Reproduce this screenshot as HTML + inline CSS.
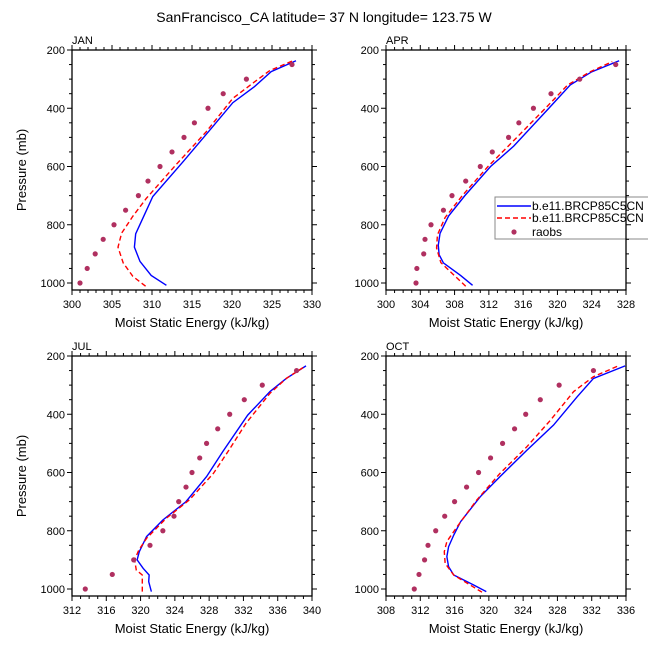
<!DOCTYPE html>
<html><head><meta charset="utf-8">
<style>
html,body{margin:0;padding:0;background:#fff;}
svg{display:block;font-family:"Liberation Sans",Arial,sans-serif;}
</style></head>
<body>
<svg id="chart" width="648" height="649" viewBox="0 0 648 649" xmlns="http://www.w3.org/2000/svg">
<text x="324" y="22" text-anchor="middle" font-size="14">SanFrancisco_CA  latitude= 37 N longitude= 123.75 W</text>
<g id="panels"></g>
</svg>
<script>
// Pressure levels for observations (mb)
const obsP = [1000,950,900,850,800,750,700,650,600,550,500,450,400,350,300,250];
// JAN
const janBlueP = [1008,974,926,877,831,775,703,583,463,381,326,274,237];
const janBlueV = [311.8,309.9,308.5,307.8,307.96,308.9,310.1,313.9,317.6,320.1,322.8,324.9,328.0];
const janRedP = [1011,977,931,877,829,771,709,594,480,366,314,271,237];
const janRedV = [309.2,307.6,306.4,305.75,306.2,307.6,309.3,313.0,316.8,320.1,322.6,324.7,327.6];
const janObs = [301.0,301.9,302.9,303.9,305.25,306.7,308.3,309.5,311.0,312.5,314.0,315.3,317.0,318.9,321.8,327.5];
// APR
const aprBlueP = [1008,974,931,903,870,830,770,700,600,530,400,320,275,237];
const aprBlueV = [310.1,308.7,306.7,306.2,306.1,306.3,307.3,309.2,312.2,314.9,319.0,321.5,324.0,327.2];
const aprRedP = [1011,975,930,880,835,775,700,600,520,400,320,275,240];
const aprRedV = [309.3,308.0,306.4,305.9,306.0,306.9,308.9,311.9,314.6,318.6,321.2,323.8,326.4];
const aprObs = [303.5,303.6,304.4,304.55,305.25,306.7,307.7,309.3,311.0,312.4,314.3,315.5,317.2,319.25,322.6,326.8];
// JUL
const julBlueP = [1009,975,952,929,900,872,820,763,700,614,528,403,322,277,234];
const julBlueV = [321.26,320.95,321.0,320.3,319.6,319.85,320.7,322.6,325.3,327.7,329.6,332.5,335.1,337.0,339.3];
const julRedP = [1009,952,935,900,866,826,757,694,603,528,431,328,277,237];
const julRedV = [320.2,320.2,319.5,319.3,319.8,320.7,323.0,325.7,328.5,330.2,332.3,335.1,337.0,339.1];
const julObs = [313.55,316.7,319.2,321.1,322.6,323.9,324.45,325.3,326.0,326.9,327.7,329.0,330.4,332.1,334.2,338.2];
// OCT
const octBlueP = [1009,986,952,923,889,855,815,769,683,614,523,437,340,277,234];
const octBlueV = [319.7,318.2,315.9,315.3,315.1,315.3,315.9,316.7,319.0,321.3,324.45,327.55,330.3,332.2,335.9];
const octRedP = [1011,986,952,912,872,837,786,694,603,511,420,322,271,234];
const octRedV = [319.2,317.8,315.9,314.9,314.8,315.1,316.3,318.6,321.3,324.45,327.2,329.9,332.2,335.1];
const octObs = [311.3,311.85,312.5,312.9,313.8,314.85,316.0,317.4,318.8,320.2,321.6,323.0,324.3,326.0,328.2,332.2];
// Axis ticks
const yTicks = [200,400,600,800,1000];
const janXTicks = [300,305,310,315,320,325,330];
const aprXTicks = [300,304,308,312,316,320,324,328];
const julXTicks = [312,316,320,324,328,332,336,340];
const octXTicks = [308,312,316,320,324,328,332,336];

const NS='http://www.w3.org/2000/svg';
const root=document.getElementById('panels');
function mk(tag,attrs,parent){const e=document.createElementNS(NS,tag);for(const k in attrs)e.setAttribute(k,attrs[k]);(parent||root).appendChild(e);return e;}

const panels=[
 {name:'jan',label:'JAN',x0:72,y0:50,xt:janXTicks,bp:janBlueP,bv:janBlueV,rp:janRedP,rv:janRedV,ob:janObs,ytitle:true,legend:false},
 {name:'apr',label:'APR',x0:386,y0:50,xt:aprXTicks,bp:aprBlueP,bv:aprBlueV,rp:aprRedP,rv:aprRedV,ob:aprObs,ytitle:false,legend:true},
 {name:'jul',label:'JUL',x0:72,y0:356,xt:julXTicks,bp:julBlueP,bv:julBlueV,rp:julRedP,rv:julRedV,ob:julObs,ytitle:true,legend:false},
 {name:'oct',label:'OCT',x0:386,y0:356,xt:octXTicks,bp:octBlueP,bv:octBlueV,rp:octRedP,rv:octRedV,ob:octObs,ytitle:false,legend:false}
];
const W=240,H=240,PMIN=200,PMAX=200+240/0.29125;

panels.forEach(pn=>{
 const g=mk('g',{});
 
 
 const xmin=pn.xt[0],xmax=pn.xt[pn.xt.length-1];
 const sx=v=>pn.x0+(v-xmin)/(xmax-xmin)*W;
 const sy=p=>pn.y0+(p-PMIN)/(PMAX-PMIN)*H;
 // clip
 const cid='clip-'+pn.name;
 const cp=mk('clipPath',{id:cid},g);
 mk('rect',{x:pn.x0,y:pn.y0,width:W,height:H},cp);
 const series=mk('g',{'clip-path':'url(#'+cid+')'},g);
 const pts=(P,V)=>P.map((p,i)=>sx(V[i]).toFixed(2)+','+sy(p).toFixed(2)).join(' ');
 const b=mk('polyline',{points:pts(pn.bp,pn.bv),fill:'none',stroke:'#0000ff','stroke-width':1.4},series);
 
 
 const r=mk('polyline',{points:pts(pn.rp,pn.rv),fill:'none',stroke:'#ff0000','stroke-width':1.4,'stroke-dasharray':'5,3'},series);
 
 
 pn.ob.forEach((v,i)=>{
  const c=mk('circle',{cx:sx(v),cy:sy(obsP[i]),r:2.6,fill:'#b03060'},g);
  
  
 });
 // legend
 if(pn.legend){
  const lg=mk('g',{},g);
  
  
  mk('rect',{x:495,y:197,width:160,height:42,fill:'#fff',stroke:'#888','stroke-width':1},lg);
  mk('line',{x1:497,y1:206,x2:531,y2:206,stroke:'#0000ff','stroke-width':1.4},lg);
  const t1=mk('text',{x:532,y:210,'font-size':12},lg);t1.textContent='b.e11.BRCP85C5CN';
  
  mk('line',{x1:497,y1:218,x2:531,y2:218,stroke:'#ff0000','stroke-width':1.4,'stroke-dasharray':'5,3'},lg);
  const t2=mk('text',{x:532,y:222,'font-size':12},lg);t2.textContent='b.e11.BRCP85C5CN';
  
  mk('circle',{cx:514,cy:232,r:2.6,fill:'#b03060'},lg);
  const t3=mk('text',{x:532,y:236,'font-size':12},lg);t3.textContent='raobs';
  
 }
 // frame
 const fr=mk('rect',{x:pn.x0,y:pn.y0,width:W,height:H,fill:'none',stroke:'#000','stroke-width':1.3},g);
 
 // y ticks
 for(let p=200;p<=1000;p+=50){
  const y=sy(p),maj=(p%200===0),L=maj?5:3;
  mk('line',{x1:pn.x0-L,y1:y,x2:pn.x0,y2:y,stroke:'#000','stroke-width':1},g);
  mk('line',{x1:pn.x0+W,y1:y,x2:pn.x0+W+L,y2:y,stroke:'#000','stroke-width':1},g);
 }
 yTicks.forEach(p=>{
  const t=mk('text',{x:pn.x0-7,y:sy(p)+4,'text-anchor':'end','font-size':11},g);
  t.textContent=p;
  
 });
 // x ticks
 for(let v=xmin;v<=xmax+1e-9;v+=1){
  const x=sx(v),maj=pn.xt.includes(v),L=maj?5:3;
  mk('line',{x1:x,y1:pn.y0+H,x2:x,y2:pn.y0+H+L,stroke:'#000','stroke-width':1},g);
  mk('line',{x1:x,y1:pn.y0-L,x2:x,y2:pn.y0,stroke:'#000','stroke-width':1},g);
 }
 pn.xt.forEach(v=>{
  const t=mk('text',{x:sx(v),y:pn.y0+H+18,'text-anchor':'middle','font-size':11},g);
  t.textContent=v;
  
 });
 const xt=mk('text',{x:pn.x0+W/2,y:pn.y0+H+37,'text-anchor':'middle','font-size':13},g);
 xt.textContent='Moist Static Energy (kJ/kg)';
 
 if(pn.ytitle){
  const cy=pn.y0+H/2;
  const yt=mk('text',{x:26,y:cy,'text-anchor':'middle','font-size':13,transform:'rotate(-90 26 '+cy+')'},g);
  yt.textContent='Pressure (mb)';
  
 }
 const pl=mk('text',{x:pn.x0,y:pn.y0-6,'font-size':11},g);
 pl.textContent=pn.label;
 
});
</script>
</body></html>
